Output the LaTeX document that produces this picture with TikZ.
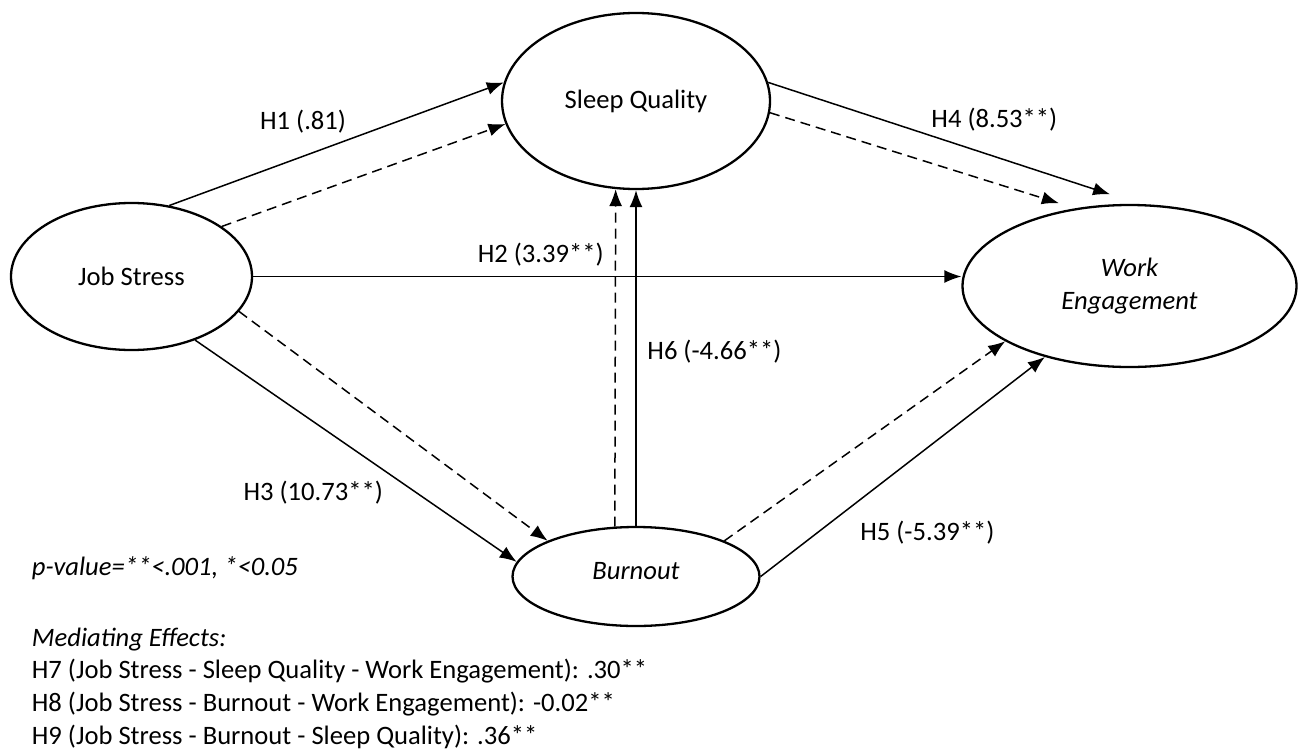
\documentclass[tikz,border=0pt]{standalone}
\usepackage{fontspec}
\setmainfont{Carlito}
\usepackage{tikz}
\usetikzlibrary{shapes.geometric,arrows.meta,positioning,calc}
\newcommand\txtsize{\fontsize{13.3}{16.4}\selectfont}

\tikzset{
  latent/.style={draw, ellipse, line width=1.15pt, inner sep=0pt},
  italic/.style={font=\txtsize\itshape},
  effect/.style={-{Latex[length=8.5pt,width=6.5pt]}, line width=0.75pt},
  indirect/.style={effect, dash pattern=on 5pt off 3pt},
  note/.style={inner sep=0pt, anchor=base west}
}

\begin{document}
\begin{tikzpicture}[on grid, every node/.style={font=\txtsize}]
      \useasboundingbox (0,0) rectangle (649.5pt,-374.5pt);

      \node[latent, minimum width=120.5pt, minimum height=73.5pt] (stress) at (65.75pt,-138.25pt) {Job Stress};
      \node[latent, minimum width=134pt, minimum height=88pt, above right=87.75pt and 252.25pt of stress] (sleep) {Sleep Quality};
      \node[latent, italic, minimum width=123.5pt, minimum height=49.5pt, text depth=6pt, below=237.75pt of sleep] (burnout) {Burnout};
      \node[latent, italic, align=center, minimum width=167pt, minimum height=81pt, below right=4.75pt and 499pt of stress] (engage) {Work\\Engagement};

      \draw[effect] (stress.62) -- node[pos=0.4, yshift=17.5pt] (lblone) {H1 (.81)} (sleep.172);
      \draw[indirect] (stress.29) -- (sleep.190);
      \draw[effect] (stress.east) -- node[pos=0.406, yshift=10.75pt] (lbltwo) {H2 (3.39**)} (stress.east -| engage.west);
      \draw[effect] (stress.-45) -- node[pos=0.5, xshift=-21.35pt, yshift=-20.75pt] (lblthree) {H3 (10.73**)} (burnout.173);
      \draw[indirect] (stress.-18) -- (burnout.158);
      \draw[effect, shorten >=15.5pt] (sleep.8) -- node[pos=0.609, yshift=18.5pt] (lblfour) {H4 (8.53**)} (engage.83);
      \draw[indirect, shorten >=8.5pt] (sleep.-5) -- (engage.125);
      \draw[effect] (burnout.east) -- node[pos=0.4, xshift=26.5pt, yshift=-22pt] (lblfive) {H5 (-5.39**)} (engage.220);
      \draw[indirect] (burnout.22) -- (engage.204);
      \draw[effect] (burnout.north) -- node[pos=0.52, anchor=west, xshift=2pt] (lblsix) {H6 (-4.66**)} (sleep.south);
      \draw[indirect] (burnout.113) -- (sleep.257);

      \node[note, italic] (pval) at (15.75pt,-287.5pt) {p-value=**<.001, *<0.05};
      \node[note, italic] (medhead) at (15.75pt,-323pt) {Mediating Effects:};
      \node[below=16.4pt of medhead.base west, note] (hseven) {H7 (Job Stress - Sleep Quality - Work Engagement): .30**};
      \node[below=16.4pt of hseven.base west, note] (height) {H8 (Job Stress - Burnout - Work Engagement): -0.02**};
      \node[below=16.4pt of height.base west, note] (hnine) {H9 (Job Stress - Burnout - Sleep Quality): .36**};
    \end{tikzpicture}
\end{document}
